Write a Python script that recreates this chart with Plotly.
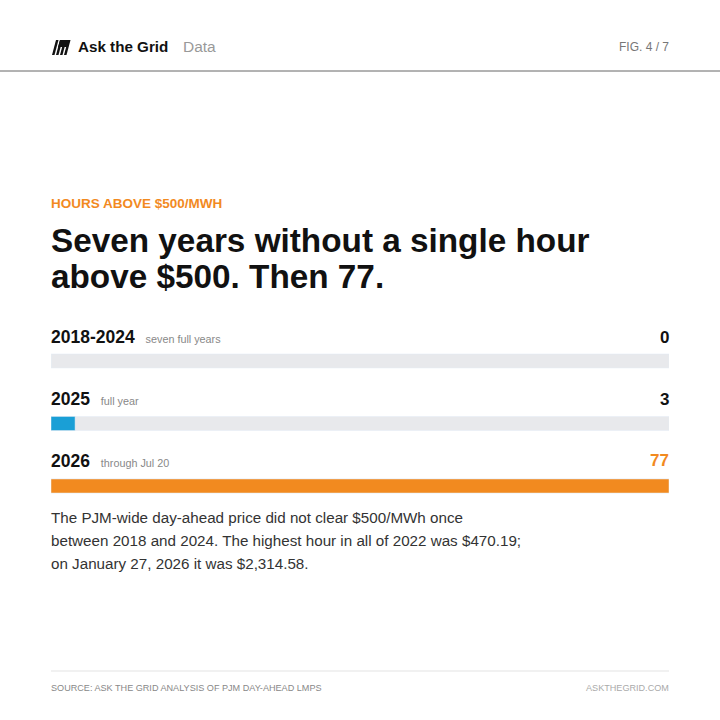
import plotly.graph_objects as go

categories = ["2018-2024", "2025", "2026"]
subtitles = ["seven full years", "full year", "through Jul 20"]
hours = [0, 3, 77]
colors = ["#1a9fd6", "#1a9fd6", "#f28a1f"]
value_colors = ["#111111", "#111111", "#f28a1f"]
scale_max = 77

W = H = 720
def px(x): return x / W
def py(y): return 1 - y / H

fig = go.Figure()
fig.add_trace(go.Bar(y=categories, x=[scale_max]*3, orientation="h", marker_color="#e8e9ec",
                     width=0.225, hoverinfo="skip", showlegend=False))
fig.add_trace(go.Bar(y=categories, x=hours, orientation="h", marker_color=colors,
                     width=0.225, showlegend=False))

F = "Liberation Sans, Arial, sans-serif"
ann = []
def t(x, y, s, size, color, anchor="left", bold=False):
    dx = -2 if anchor == "left" else 2
    ann.append(dict(x=px(x + dx), y=py(y), xref="paper", yref="paper", text=f"<b>{s}</b>" if bold else s,
                    showarrow=False, xanchor=anchor, yanchor="middle",
                    font=dict(family=F, size=size, color=color)))

t(78, 47, "Ask the Grid", 15.2, "#111111", bold=True)
t(183, 47, "Data", 15.5, "#999999")
t(669, 47, "FIG. 4 / 7", 12, "#777777", anchor="right")
t(51, 203, "HOURS ABOVE $500/MWH", 13.5, "#f28a1f", bold=True)
t(51, 241, "Seven years without a single hour", 33.3, "#111111", bold=True)
t(51, 276, "above $500. Then 77.", 33.3, "#111111", bold=True)
lab_y = [337, 399, 461]
for i, c in enumerate(categories):
    ann.append(dict(x=px(49), y=py(lab_y[i]), xref="paper", yref="paper",
                    text=f"<b>{c}</b> <span style='font-size:10.8px;color:#888'>  {subtitles[i]}</span>",
                    showarrow=False, xanchor="left", yanchor="middle",
                    font=dict(family=F, size=17.5, color="#111111")))
    t(669, lab_y[i], str(hours[i]), 17, value_colors[i], anchor="right", bold=True)
body = ["The PJM-wide day-ahead price did not clear $500/MWh once",
        "between 2018 and 2024. The highest hour in all of 2022 was $470.19;",
        "on January 27, 2026 it was $2,314.58."]
for i, s in enumerate(body):
    t(51, 517 + i * 23, s, 15.2, "#333333")
t(51, 688, "SOURCE: ASK THE GRID ANALYSIS OF PJM DAY-AHEAD LMPS", 9.1, "#888888")
t(669, 688, "ASKTHEGRID.COM", 9.1, "#aaaaaa", anchor="right")

shapes = [
    dict(type="line", xref="paper", yref="paper", x0=0, x1=1, y0=py(71), y1=py(71), line=dict(color="#666", width=1)),
    dict(type="line", xref="paper", yref="paper", x0=px(51), x1=px(669), y0=py(671), y1=py(671), line=dict(color="#e3e3e3", width=1)),
]
for k, x0 in enumerate([52, 56, 60, 64]):
    shapes.append(dict(type="path", xref="paper", yref="paper",
        path=f"M {px(x0+4)},{py(40)} L {px(x0+6.5)},{py(40)} L {px(x0+2.5)},{py(55)} L {px(x0)},{py(55)} Z",
        fillcolor="#111", line=dict(width=0)))
shapes.append(dict(type="path", xref="paper", yref="paper",
    path=f"M {px(60)},{py(40)} L {px(70)},{py(40)} L {px(68)},{py(47)} L {px(58)},{py(47)} Z",
    fillcolor="#111", line=dict(width=0)))

fig.update_layout(
    width=W, height=H, margin=dict(l=0, r=0, t=0, b=0),
    paper_bgcolor="white", plot_bgcolor="white", barmode="overlay",
    xaxis=dict(domain=[px(51), px(669)], range=[0, scale_max], visible=False, fixedrange=True),
    yaxis=dict(domain=[py(517.25), py(329.75)], categoryorder="array", categoryarray=categories,
               range=[2.5, -0.5], visible=False, fixedrange=True),
    annotations=ann, shapes=shapes,
)
fig.write_html("out.html", config={"displayModeBar": False},
               post_script="document.body.style.margin='0';document.body.style.overflow='hidden';")
